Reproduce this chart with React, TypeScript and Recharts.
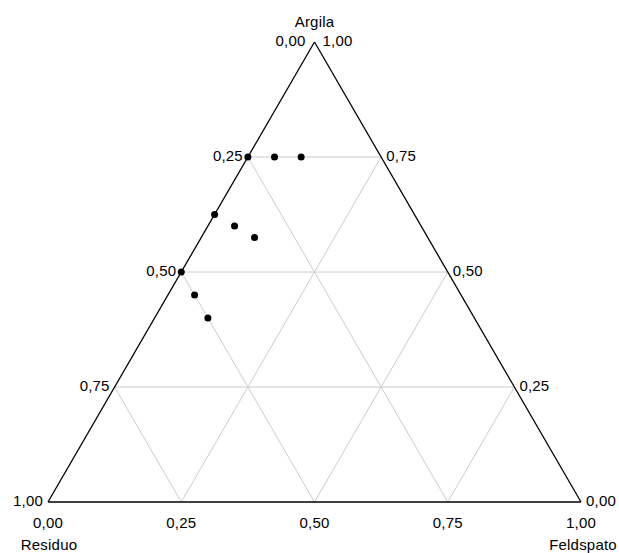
import React from 'react';
import { ScatterChart, Scatter, XAxis, YAxis, ReferenceLine, ReferenceDot } from 'recharts';

// ternary composition of each sample (residuo = 1 - argila - feldspato)
const argila = [0.75, 0.75, 0.75, 0.625, 0.6, 0.575, 0.5, 0.45, 0.4];
const feldspato = [0, 0.05, 0.1, 0, 0.05, 0.1, 0, 0.05, 0.1];

const ticks = [0, 0.25, 0.5, 0.75, 1];
const tickLabels = ['0,00', '0,25', '0,50', '0,75', '1,00'];
const cornerNames = { top: 'Argila', left: 'Residuo', right: 'Feldspato' };

// convert to cartesian: x along base, y = height fraction
const points = argila.map((a, i) => ({ x: feldspato[i] + a / 2, y: a }));

const FONT = '"Liberation Sans", Arial, sans-serif';

const txt = (text: string, dx: number, dy: number, anchor: string) => (props: any) => {
  const vb = props.viewBox || {};
  const cx = vb.x + (vb.width || 0) / 2;
  const cy = vb.y + (vb.height || 0) / 2;
  return (
    <text
      x={cx + dx}
      y={cy + dy}
      textAnchor={anchor}
      dominantBaseline="central"
      fontFamily={FONT}
      fontSize={15}
      letterSpacing={0.2}
      fill="#000"
    >
      {text}
    </text>
  );
};

const seg = (x1: number, y1: number, x2: number, y2: number) => [
  { x: x1, y: y1 },
  { x: x2, y: y2 },
];

export default function App() {
  const inner = ticks.slice(1, 4);

  return (
    <div style={{ position: 'absolute', left: 0, top: 0, background: '#fff' }}>
      <ScatterChart width={619} height={553} margin={{ top: 42, right: 38, bottom: 51, left: 48 }}>
        <XAxis type="number" dataKey="x" domain={[0, 1]} hide />
        <YAxis type="number" dataKey="y" domain={[0, 1]} hide />

        {/* grid: constant argila */}
        {inner.map((k) => (
          <ReferenceLine key={'a' + k} segment={seg(k / 2, k, 1 - k / 2, k)} stroke="#cccccc" strokeWidth={1} />
        ))}
        {/* constant feldspato */}
        {inner.map((k) => (
          <ReferenceLine key={'f' + k} segment={seg(k, 0, k + (1 - k) / 2, 1 - k)} stroke="#cccccc" strokeWidth={1} />
        ))}
        {/* constant residuo */}
        {inner.map((k) => (
          <ReferenceLine key={'r' + k} segment={seg(1 - k, 0, (1 - k) / 2, 1 - k)} stroke="#cccccc" strokeWidth={1} />
        ))}

        {/* triangle */}
        <ReferenceLine segment={seg(0, 0, 0.5, 1)} stroke="#000" strokeWidth={1.3} />
        <ReferenceLine segment={seg(0.5, 1, 1, 0)} stroke="#000" strokeWidth={1.3} />
        <ReferenceLine segment={seg(0, 0, 1, 0)} stroke="#000" strokeWidth={1.3} />

        {/* left edge labels (residuo) */}
        {ticks.map((t, i) =>
          i === 0 ? null : (
            <ReferenceDot key={'l' + t} x={(1 - t) / 2} y={1 - t} r={1} fill="none" stroke="none" ifOverflow="visible"
              label={{ content: txt(tickLabels[i], -5, -2, 'end') }} />
          )
        )}
        {/* right edge labels (argila) */}
        {ticks.map((t, i) =>
          i === 4 ? null : (
            <ReferenceDot key={'r' + t} x={1 - t / 2} y={t} r={1} fill="none" stroke="none" ifOverflow="visible"
              label={{ content: txt(tickLabels[i], 5, -2, 'start') }} />
          )
        )}
        {/* bottom labels (feldspato) */}
        {ticks.map((t, i) => (
          <ReferenceDot key={'b' + t} x={t} y={0} r={1} fill="none" stroke="none" ifOverflow="visible"
            label={{ content: txt(tickLabels[i], 0, 20, 'middle') }} />
        ))}
        {/* apex labels */}
        <ReferenceDot x={0.5} y={1} r={1} fill="none" stroke="none" ifOverflow="visible"
          label={{ content: txt(tickLabels[0], -9, -2, 'end') }} />
        <ReferenceDot x={0.5} y={1} r={1} fill="none" stroke="none" ifOverflow="visible"
          label={{ content: txt(tickLabels[4], 8, -2, 'start') }} />

        {/* corner names */}
        <ReferenceDot x={0.5} y={1} r={1} fill="none" stroke="none" ifOverflow="visible"
          label={{ content: txt(cornerNames.top, 0, -21, 'middle') }} />
        <ReferenceDot x={0} y={0} r={1} fill="none" stroke="none" ifOverflow="visible"
          label={{ content: txt(cornerNames.left, 1, 42, 'middle') }} />
        <ReferenceDot x={1} y={0} r={1} fill="none" stroke="none" ifOverflow="visible"
          label={{ content: txt(cornerNames.right, 2, 42, 'middle') }} />

        <Scatter
          data={points}
          isAnimationActive={false}
          shape={(p: any) => <circle cx={p.cx} cy={p.cy} r={3.5} fill="#000" />}
        />
      </ScatterChart>
    </div>
  );
}
